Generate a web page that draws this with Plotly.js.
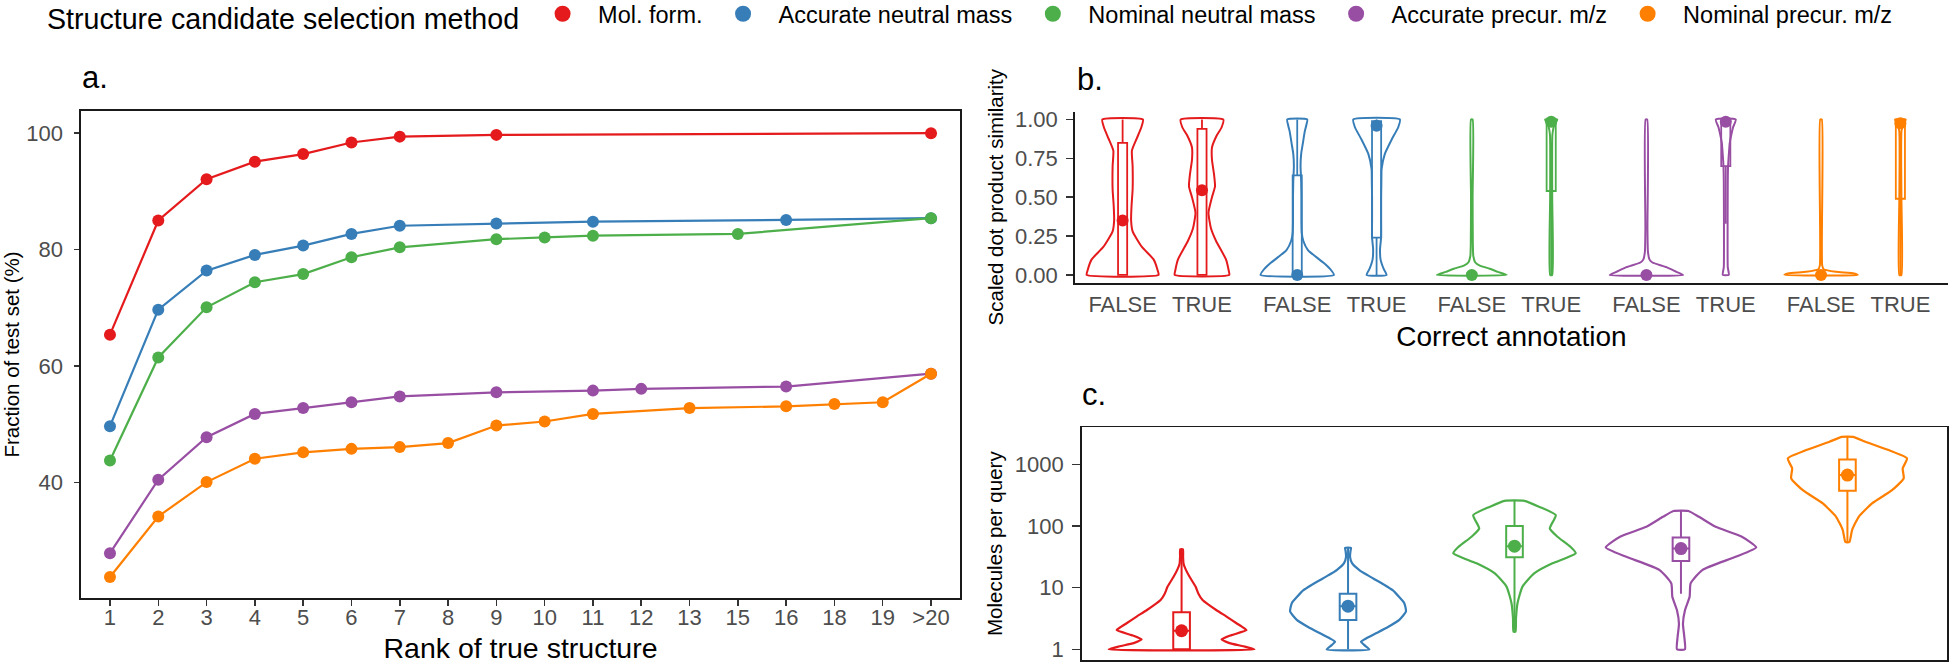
<!DOCTYPE html>
<html>
<head>
<meta charset="utf-8">
<script src="https://cdn.plot.ly/plotly-3.0.1.min.js"></script>
<style>html,body{margin:0;padding:0;background:#fff}#chart{width:1950px;height:664px}</style>
</head>
<body>
<div id="chart"></div>
<script>
// ================= DATA =================
const methods = ['Mol. form.', 'Accurate neutral mass', 'Nominal neutral mass', 'Accurate precur. m/z', 'Nominal precur. m/z'];
const methodColors = ['#E41A1C', '#377EB8', '#4DAF4A', '#984EA3', '#FF7F00'];

// ---- panel a: cumulative fraction of test set by rank of true structure ----
const rankLabels = ['1','2','3','4','5','6','7','8','9','10','11','12','13','15','16','18','19','>20'];
const molFormRank = ['1','2','3','4','5','6','7','9','>20'];
const molFormPct = [65.4, 85.0, 92.1, 95.1, 96.4, 98.4, 99.4, 99.7, 100.0];
const accNeutralRank = ['1','2','3','4','5','6','7','9','11','16','>20'];
const accNeutralPct = [49.7, 69.7, 76.4, 79.1, 80.7, 82.7, 84.1, 84.5, 84.8, 85.1, 85.4];
const nomNeutralRank = ['1','2','3','4','5','6','7','9','10','11','15','>20'];
const nomNeutralPct = [43.8, 61.5, 70.1, 74.4, 75.8, 78.7, 80.4, 81.8, 82.1, 82.4, 82.7, 85.4];
const accPrecRank = ['1','2','3','4','5','6','7','9','11','12','16','>20'];
const accPrecPct = [27.9, 40.5, 47.8, 51.8, 52.8, 53.8, 54.8, 55.5, 55.8, 56.1, 56.5, 58.7];
const nomPrecRank = ['1','2','3','4','5','6','7','8','9','10','11','13','16','18','19','>20'];
const nomPrecPct = [23.8, 34.2, 40.1, 44.1, 45.2, 45.8, 46.1, 46.8, 49.8, 50.5, 51.8, 52.8, 53.1, 53.5, 53.8, 58.7];

// ---- panel b: scaled dot product similarity (violin profiles: value, half-width in category units) ----
const annotLabels = ['FALSE', 'TRUE'];
const simMolFormFalseVal = [0, 0.03, 0.1, 0.18, 0.28, 0.35, 0.45, 0.55, 0.7, 0.8, 0.88, 0.95, 1];
const simMolFormFalseHW  = [0.453, 0.441, 0.39, 0.243, 0.126, 0.107, 0.113, 0.126, 0.126, 0.117, 0.18, 0.236, 0.256];
const simMolFormTrueVal  = [0, 0.03, 0.1, 0.22, 0.3, 0.4, 0.5, 0.57, 0.65, 0.74, 0.82, 0.9, 0.95, 1];
const simMolFormTrueHW   = [0.344, 0.336, 0.302, 0.176, 0.113, 0.082, 0.126, 0.164, 0.151, 0.126, 0.126, 0.189, 0.248, 0.268];
const simAccNeutralFalseVal = [0, 0.03, 0.075, 0.12, 0.16, 0.22, 0.27, 0.35, 0.5, 0.6, 0.7, 0.78, 0.85, 0.92, 0.96, 1];
const simAccNeutralFalseHW  = [0.462, 0.428, 0.34, 0.227, 0.135, 0.076, 0.057, 0.053, 0.053, 0.05, 0.042, 0.05, 0.072, 0.094, 0.113, 0.126];
const simAccNeutralTrueVal  = [0, 0.04, 0.1, 0.17, 0.24, 0.35, 0.5, 0.6, 0.68, 0.78, 0.87, 0.95, 1];
const simAccNeutralTrueHW   = [0.126, 0.088, 0.05, 0.044, 0.057, 0.057, 0.057, 0.06, 0.063, 0.105, 0.189, 0.273, 0.293];
const simNomNeutralFalseVal = [0, 0.02, 0.04, 0.06, 0.08, 0.12, 0.2, 0.5, 1];
const simNomNeutralFalseHW  = [0.441, 0.327, 0.227, 0.1, 0.044, 0.019, 0.013, 0.01, 0.01];
const simNomNeutralTrueVal  = [0, 0.5, 0.9, 0.95, 0.98, 1];
const simNomNeutralTrueHW   = [0.013, 0.013, 0.015, 0.031, 0.057, 0.076];
const simAccPrecFalseVal = [0, 0.02, 0.05, 0.08, 0.1, 0.15, 0.3, 1];
const simAccPrecFalseHW  = [0.462, 0.378, 0.252, 0.076, 0.038, 0.019, 0.013, 0.01];
const simAccPrecTrueVal  = [0, 0.05, 0.3, 0.6, 0.7, 0.8, 0.85, 0.9, 0.95, 1];
const simAccPrecTrueHW   = [0.038, 0.025, 0.023, 0.025, 0.029, 0.042, 0.05, 0.069, 0.092, 0.126];
const simNomPrecFalseVal = [0, 0.01, 0.02, 0.035, 0.06, 1];
const simNomPrecFalseHW  = [0.462, 0.416, 0.189, 0.038, 0.015, 0.01];
const simNomPrecTrueVal  = [0, 0.5, 0.93, 0.97, 1];
const simNomPrecTrueHW   = [0.013, 0.013, 0.015, 0.044, 0.067];
// box summaries, order: method x (FALSE, TRUE)
const simLower  = [0, 0, 0, 0, 0, 0, 0, 0.33, 0, 0];
const simQ1     = [0, 0, 0, 0.24, 0, 0.54, 0, 0.70, 0, 0.49];
const simMedian = [0.35, 0.545, 0, 0.96, 0, 0.985, 0, 0.985, 0, 0.975];
const simQ3     = [0.85, 0.94, 0.64, 0.99, 0.01, 0.995, 0.01, 0.995, 0.005, 0.995];
const simUpper  = [1, 1, 1, 1, 0.025, 1, 0.025, 1, 0.012, 1];

// ---- panel c: molecules per query ----
const molMolFormVal = [1, 1.12, 1.26, 1.45, 1.7, 2.05, 2.35, 2.65, 3.4, 4.3, 6.3, 7.9, 10.4, 15, 20, 24.5, 31.6, 42];
const molMolFormHW  = [0.438, 0.372, 0.288, 0.24, 0.3, 0.39, 0.36, 0.33, 0.27, 0.21, 0.126, 0.102, 0.084, 0.048, 0.024, 0.012, 0.009, 0.008];
const molAccNeutralVal = [1, 1.17, 1.33, 1.5, 1.82, 2.3, 3, 4.1, 5.6, 7.1, 9.1, 11.2, 13.3, 15.8, 19.3, 25, 31.6, 40, 44];
const molAccNeutralHW  = [0.128, 0.098, 0.078, 0.108, 0.168, 0.24, 0.308, 0.348, 0.338, 0.306, 0.268, 0.216, 0.168, 0.12, 0.068, 0.024, 0.012, 0.015, 0.018];
const molNomNeutralVal = [1.93, 3.2, 5.6, 10.4, 17, 24.8, 30, 36, 46, 67, 91, 150, 205, 256];
const molNomNeutralHW  = [0.006, 0.009, 0.018, 0.048, 0.118, 0.228, 0.306, 0.368, 0.336, 0.258, 0.212, 0.248, 0.148, 0.06];
const molAccPrecVal = [1, 1.6, 2.6, 4.3, 7.1, 11.7, 19.3, 31.6, 45, 67, 97, 141, 175];
const molAccPrecHW  = [0.024, 0.02, 0.012, 0.024, 0.052, 0.058, 0.128, 0.328, 0.452, 0.366, 0.208, 0.108, 0.045];
const molNomPrecVal = [55, 86, 141, 232, 380, 590, 857, 1250, 1700, 2320, 2790];
const molNomPrecHW  = [0.012, 0.028, 0.068, 0.148, 0.268, 0.338, 0.332, 0.358, 0.248, 0.108, 0.034];
const molLower  = [1, 1, 2, 8, 55];
const molQ1     = [1, 3, 31, 27, 372];
const molMedian = [2, 5, 47, 43, 668];
const molQ3     = [4, 8, 100, 65, 1200];
const molUpper  = [42, 44, 256, 175, 2790];

// ================= BUILD =================
const FONT = 'Liberation Sans, Arial, Helvetica, sans-serif';
const TICKCOL = '#4D4D4D';
const AXCOL = '#1a1a1a';
const traces = [];

// legend-only entries
methods.forEach((m, i) => {
  traces.push({type: 'scatter', mode: 'markers', x: [null], y: [null], xaxis: 'x', yaxis: 'y',
    name: m, marker: {color: methodColors[i], size: 16}, showlegend: true, hoverinfo: 'skip'});
});

// panel a
const aRanks = [molFormRank, accNeutralRank, nomNeutralRank, accPrecRank, nomPrecRank];
const aPcts = [molFormPct, accNeutralPct, nomNeutralPct, accPrecPct, nomPrecPct];
aRanks.forEach((r, i) => {
  traces.push({type: 'scatter', mode: 'lines+markers', x: r, y: aPcts[i], xaxis: 'x', yaxis: 'y',
    name: methods[i], showlegend: false,
    line: {color: methodColors[i], width: 2.2}, marker: {color: methodColors[i], size: 12}});
});

function violinPath(center, vals, hw) {
  const x = [], y = [];
  for (let k = 0; k < vals.length; k++) { x.push(center + hw[k]); y.push(vals[k]); }
  for (let k = vals.length - 1; k >= 0; k--) { x.push(center - hw[k]); y.push(vals[k]); }
  x.push(x[0]); y.push(y[0]);
  return {x, y};
}

// panel b
const bViolins = [
  [simMolFormFalseVal, simMolFormFalseHW, simMolFormTrueVal, simMolFormTrueHW],
  [simAccNeutralFalseVal, simAccNeutralFalseHW, simAccNeutralTrueVal, simAccNeutralTrueHW],
  [simNomNeutralFalseVal, simNomNeutralFalseHW, simNomNeutralTrueVal, simNomNeutralTrueHW],
  [simAccPrecFalseVal, simAccPrecFalseHW, simAccPrecTrueVal, simAccPrecTrueHW],
  [simNomPrecFalseVal, simNomPrecFalseHW, simNomPrecTrueVal, simNomPrecTrueHW]
];
const bPos = (m, t) => m * 2.2 + 0.6 + t;
const bTickVals = [], bTickText = [];
bViolins.forEach((v, m) => {
  [0, 1].forEach(t => {
    const p = violinPath(bPos(m, t), v[2 * t], v[2 * t + 1]);
    traces.push({type: 'scatter', mode: 'lines', x: p.x, y: p.y, xaxis: 'x2', yaxis: 'y2', showlegend: false,
      line: {color: methodColors[m], width: 2, shape: 'spline', smoothing: 0.5}, hoverinfo: 'skip'});
    bTickVals.push(bPos(m, t)); bTickText.push(annotLabels[t]);
  });
});
methods.forEach((m, i) => {
  const idx = [2 * i, 2 * i + 1];
  traces.push({type: 'box', xaxis: 'x2', yaxis: 'y2', showlegend: false, name: m,
    x: idx.map(k => bPos(i, k % 2)),
    lowerfence: idx.map(k => simLower[k]), q1: idx.map(k => simQ1[k]), median: idx.map(k => simMedian[k]),
    q3: idx.map(k => simQ3[k]), upperfence: idx.map(k => simUpper[k]),
    width: 0.115, whiskerwidth: 0, boxpoints: false,
    line: {color: methodColors[i], width: 1.8}, fillcolor: 'rgba(255,255,255,1)', hoverinfo: 'skip'});
  traces.push({type: 'scatter', mode: 'markers', xaxis: 'x2', yaxis: 'y2', showlegend: false,
    x: idx.map(k => bPos(i, k % 2)), y: idx.map(k => simMedian[k]),
    marker: {color: methodColors[i], size: 12}, hoverinfo: 'skip'});
});

// panel c
const cViolins = [
  [molMolFormVal, molMolFormHW], [molAccNeutralVal, molAccNeutralHW], [molNomNeutralVal, molNomNeutralHW],
  [molAccPrecVal, molAccPrecHW], [molNomPrecVal, molNomPrecHW]
];
cViolins.forEach((v, i) => {
  const p = violinPath(i + 1, v[0], v[1]);
  traces.push({type: 'scatter', mode: 'lines', x: p.x, y: p.y, xaxis: 'x3', yaxis: 'y3', showlegend: false,
    line: {color: methodColors[i], width: 2.2, shape: 'spline', smoothing: 0.5}, hoverinfo: 'skip'});
});
methods.forEach((m, i) => {
  traces.push({type: 'box', xaxis: 'x3', yaxis: 'y3', showlegend: false, name: m,
    x: [i + 1], lowerfence: [molLower[i]], q1: [molQ1[i]], median: [molMedian[i]], q3: [molQ3[i]], upperfence: [molUpper[i]],
    width: 0.1, whiskerwidth: 0, boxpoints: false,
    line: {color: methodColors[i], width: 2}, fillcolor: 'rgba(255,255,255,1)', hoverinfo: 'skip'});
  traces.push({type: 'scatter', mode: 'markers', xaxis: 'x3', yaxis: 'y3', showlegend: false,
    x: [i + 1], y: [molMedian[i]], marker: {color: methodColors[i], size: 13}, hoverinfo: 'skip'});
});

// ================= LAYOUT =================
const W = 1950, H = 664;
const px = v => v / W;
const py = v => 1 - v / H;
const tickFont = {family: FONT, size: 22, color: TICKCOL};

const layout = {
  width: W, height: H,
  margin: {l: 0, r: 0, t: 0, b: 0, autoexpand: false},
  paper_bgcolor: 'white', plot_bgcolor: 'white',
  font: {family: FONT, color: '#000'},
  showlegend: true,
  legend: {orientation: 'h', x: px(45), xanchor: 'left', y: py(16), yanchor: 'middle',
    title: {text: 'Structure candidate selection method', font: {size: 28.6, family: FONT, color: '#000'}, side: 'left'},
    font: {size: 23.5, family: FONT, color: '#000'}, itemwidth: 61, bgcolor: 'rgba(0,0,0,0)', traceorder: 'normal'},
  boxmode: 'overlay',
  xaxis: {domain: [px(81), px(960)], anchor: 'y', type: 'category', categoryorder: 'array', categoryarray: rankLabels,
    range: [-0.6, 17.6], showline: true, mirror: true, linecolor: AXCOL, linewidth: 1.6,
    ticks: 'outside', ticklen: 6, tickwidth: 1.5, tickcolor: '#333', tickfont: tickFont, ticklabelstandoff: -7,
    showgrid: false, zeroline: false,
    title: {text: 'Rank of true structure', font: {size: 28.5, family: FONT, color: '#000'}, standoff: 13}},
  yaxis: {domain: [py(598), py(111)], anchor: 'x', range: [20.2, 103.8], tickvals: [40, 60, 80, 100],
    showline: true, mirror: true, linecolor: AXCOL, linewidth: 1.6,
    ticks: 'outside', ticklen: 5, tickwidth: 1.5, tickcolor: '#333', tickfont: tickFont, ticklabelstandoff: 7,
    showgrid: false, zeroline: false,
    title: {text: 'Fraction of test set (%)', font: {size: 20.5, family: FONT, color: '#000'}, standoff: 6}},
  xaxis2: {domain: [px(1075), px(1948)], anchor: 'y2', range: [0, 11], tickvals: bTickVals, ticktext: bTickText,
    showline: true, linecolor: AXCOL, linewidth: 1.8, ticks: '', tickfont: tickFont, ticklabelstandoff: 1,
    showgrid: false, zeroline: false,
    title: {text: 'Correct annotation', font: {size: 28, family: FONT, color: '#000'}, standoff: 10}},
  yaxis2: {domain: [py(282.7), py(111.7)], anchor: 'x2', range: [-0.05, 1.05], tickvals: [0, 0.25, 0.5, 0.75, 1],
    ticktext: ['0.00', '0.25', '0.50', '0.75', '1.00'],
    showline: true, linecolor: AXCOL, linewidth: 1.8, ticks: 'outside', ticklen: 7, tickwidth: 1.5, tickcolor: '#333',
    tickfont: tickFont, ticklabelstandoff: 4, showgrid: false, zeroline: false,
    title: {text: 'Scaled dot product similarity', font: {size: 20.5, family: FONT, color: '#000'}, standoff: 6}},
  xaxis3: {domain: [px(1081.7), px(1947.3)], anchor: 'y3', range: [0.4, 5.6], showticklabels: false, ticks: '',
    showline: true, mirror: true, linecolor: AXCOL, linewidth: 1.6, showgrid: false, zeroline: false},
  yaxis3: {domain: [py(660), py(427.3)], anchor: 'x3', type: 'log', range: [-0.173, 3.6], tickvals: [1, 10, 100, 1000],
    ticktext: ['1', '10', '100', '1000'],
    showline: true, mirror: true, linecolor: AXCOL, linewidth: 1.6, ticks: 'outside', ticklen: 8, tickwidth: 1.5, tickcolor: '#333',
    tickfont: tickFont, ticklabelstandoff: 4, showgrid: false, zeroline: false,
    title: {text: 'Molecules per query', font: {size: 20.5, family: FONT, color: '#000'}, standoff: 6}},
  annotations: [
    {text: 'a.', xref: 'paper', yref: 'paper', x: px(80), y: py(77), xanchor: 'left', yanchor: 'middle', showarrow: false, font: {size: 31, family: FONT, color: '#000'}},
    {text: 'b.', xref: 'paper', yref: 'paper', x: px(1075), y: py(79), xanchor: 'left', yanchor: 'middle', showarrow: false, font: {size: 31, family: FONT, color: '#000'}},
    {text: 'c.', xref: 'paper', yref: 'paper', x: px(1080), y: py(394), xanchor: 'left', yanchor: 'middle', showarrow: false, font: {size: 31, family: FONT, color: '#000'}}
  ]
};

Plotly.newPlot('chart', traces, layout, {displayModeBar: false, staticPlot: true});
</script>
</body>
</html>
